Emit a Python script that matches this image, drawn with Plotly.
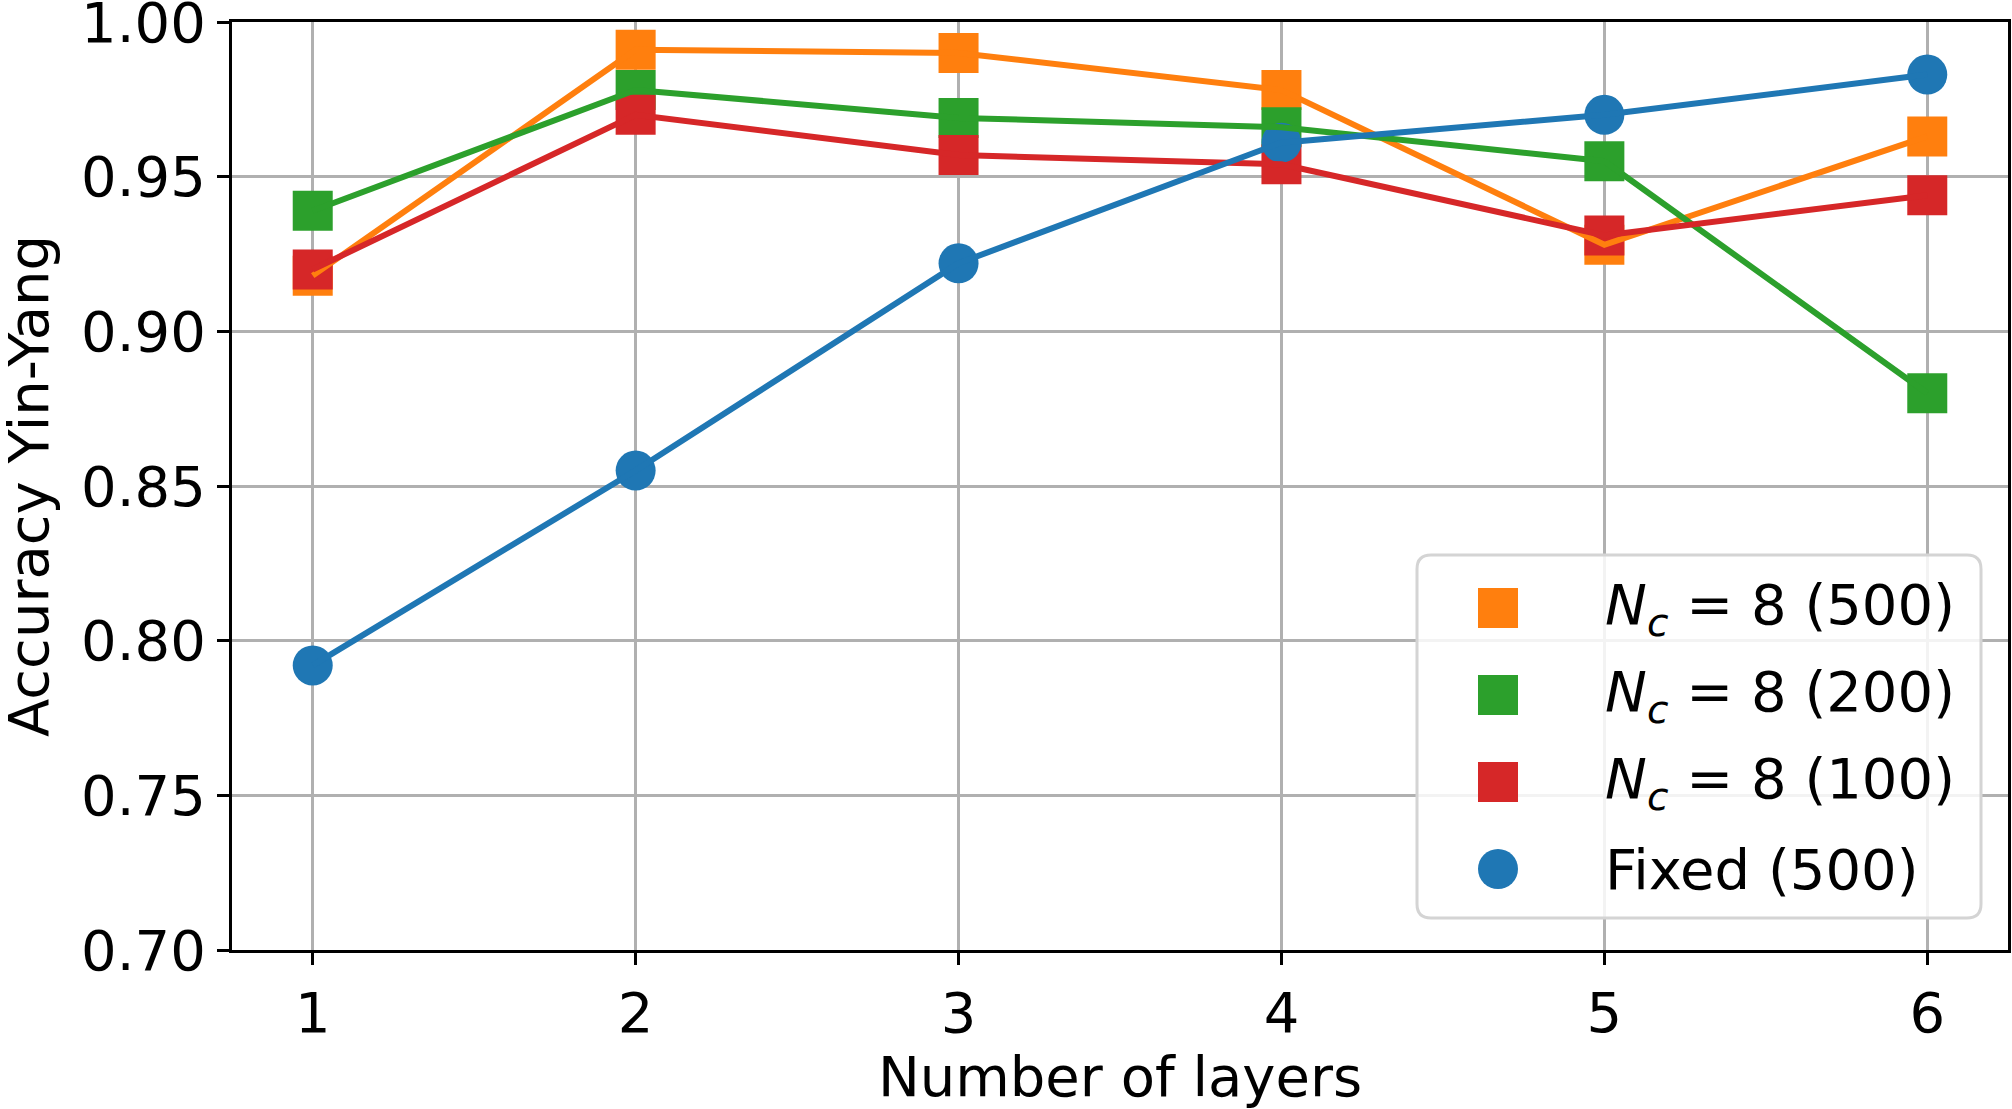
import plotly.graph_objects as go

# ---- data ----
layers = [1, 2, 3, 4, 5, 6]
nc8_500 = [0.918, 0.991, 0.990, 0.978, 0.928, 0.963]
nc8_200 = [0.939, 0.978, 0.969, 0.966, 0.955, 0.880]
nc8_100 = [0.920, 0.970, 0.957, 0.954, 0.931, 0.944]
fixed_500 = [0.792, 0.855, 0.922, 0.961, 0.970, 0.983]

series_names = [
    "<i>N</i><sub><i>c</i></sub> = 8 (500)",
    "<i>N</i><sub><i>c</i></sub> = 8 (200)",
    "<i>N</i><sub><i>c</i></sub> = 8 (100)",
    "Fixed (500)",
]
series_values = [nc8_500, nc8_200, nc8_100, fixed_500]
colors = ["#ff7f0e", "#2ca02c", "#d62728", "#1f77b4"]
symbols = ["square", "square", "square", "circle"]

y_ticks = [0.70, 0.75, 0.80, 0.85, 0.90, 0.95, 1.00]
x_title = "Number of layers"
y_title = "Accuracy Yin-Yang"

FONT = "DejaVu Sans"
FS = 56
W, H = 2012, 1109
ML, MR, MT, MB = 232, 4, 22, 159
PW, PH = W - ML - MR, H - MT - MB

fig = go.Figure()

# markers first (scatter, lower z), then lines on top
for name, vals, c, s in zip(series_names, series_values, colors, symbols):
    fig.add_trace(go.Scatter(x=layers, y=vals, mode="markers", name=name,
                             marker=dict(symbol=s, size=40, color=c, line=dict(width=0)),
                             showlegend=False))
for name, vals, c in zip(series_names, series_values, colors):
    fig.add_trace(go.Scatter(x=layers, y=vals, mode="lines",
                             line=dict(color=c, width=6), showlegend=False))


def px2paper(px, py):
    return (px - ML) / PW, (H - MB - py) / PH


# custom legend (matches large symbols of reference)
lx0, ly0 = px2paper(1417, 555)
lx1, ly1 = px2paper(1981, 918)
shapes = []
r = 14
rx, ry = r / PW, r / PH
path = (f"M {lx0+rx},{ly0} L {lx1-rx},{ly0} Q {lx1},{ly0} {lx1},{ly0-ry} "
        f"L {lx1},{ly1+ry} Q {lx1},{ly1} {lx1-rx},{ly1} L {lx0+rx},{ly1} "
        f"Q {lx0},{ly1} {lx0},{ly1+ry} L {lx0},{ly0-ry} Q {lx0},{ly0} {lx0+rx},{ly0} Z")
shapes.append(dict(type="path", xref="paper", yref="paper", path=path,
                   fillcolor="rgba(255,255,255,0.85)", line=dict(color="#d4d4d4", width=3),
                   layer="above"))
row_y = [608, 695, 782, 869]
sym_x = 1498
annotations = []
for name, c, s, ry_px in zip(series_names, colors, symbols, row_y):
    x0, y0 = px2paper(sym_x - 20, ry_px + 20)
    x1, y1 = px2paper(sym_x + 20, ry_px - 20)
    shapes.append(dict(type="rect" if s == "square" else "circle", xref="paper", yref="paper",
                       x0=x0, y0=y0, x1=x1, y1=y1, fillcolor=c, line=dict(width=0),
                       layer="above"))
    tx, ty = px2paper(1603, ry_px)
    annotations.append(dict(xref="paper", yref="paper", x=tx, y=ty, text=name,
                            xanchor="left", yanchor="middle", showarrow=False,
                            font=dict(family=FONT, size=FS, color="black")))

# y-axis title placed precisely
ytx, _ = px2paper(28, 0)
annotations.append(dict(xref="paper", yref="paper", x=ytx, y=0.5, text=y_title,
                        textangle=-90, xanchor="center", yanchor="middle", showarrow=False,
                        font=dict(family=FONT, size=FS, color="black")))

fig.update_layout(
    width=W, height=H,
    margin=dict(l=ML, r=MR, t=MT, b=MB, autoexpand=False),
    paper_bgcolor="white", plot_bgcolor="white",
    font=dict(family=FONT, size=FS, color="black"),
    shapes=shapes, annotations=annotations,
    showlegend=False,
    xaxis=dict(range=[0.75, 6.25], tickmode="array", tickvals=layers,
               ticktext=[str(v) for v in layers],
               showgrid=True, gridcolor="#b0b0b0", gridwidth=2.5,
               showline=True, linecolor="black", linewidth=3, mirror=True,
               ticks="outside", ticklen=12, tickwidth=2.5, tickcolor="black",
               zeroline=False, ticklabeloverflow="allow", automargin=True,
               title=dict(text=x_title, font=dict(family=FONT, size=FS), standoff=18),
               tickfont=dict(family=FONT, size=FS)),
    yaxis=dict(range=[0.70, 1.00], tickmode="array", tickvals=y_ticks,
               ticktext=[f"{v:.2f}" for v in y_ticks],
               showgrid=True, gridcolor="#b0b0b0", gridwidth=2.5,
               showline=True, linecolor="black", linewidth=3, mirror=True,
               ticks="outside", ticklen=12, tickwidth=2.5, tickcolor="black",
               zeroline=False, ticklabeloverflow="allow", automargin=True,
               tickfont=dict(family=FONT, size=FS)),
)

fig.write_html("out.html")
